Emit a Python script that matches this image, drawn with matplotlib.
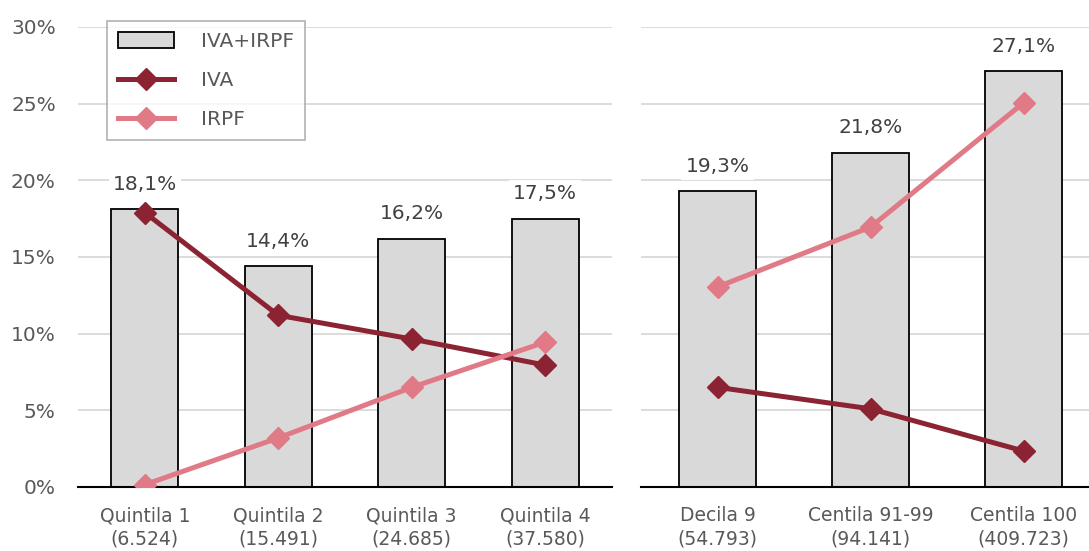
import matplotlib
matplotlib.use("Agg")
import matplotlib.pyplot as plt
import numpy as np

left_cats = ["Quintila 1\n(6.524)", "Quintila 2\n(15.491)", "Quintila 3\n(24.685)", "Quintila 4\n(37.580)"]
left_total = [18.1, 14.4, 16.2, 17.5]
left_iva = [17.9, 11.2, 9.65, 7.95]
left_irpf = [0.15, 3.2, 6.5, 9.45]

right_cats = ["Decila 9\n(54.793)", "Centila 91-99\n(94.141)", "Centila 100\n(409.723)"]
right_total = [19.3, 21.8, 27.1]
right_iva = [6.5, 5.1, 2.35]
right_irpf = [13.05, 16.95, 25.05]

yticks = [0, 5, 10, 15, 20, 25, 30]
ytick_labels = ["0%", "5%", "10%", "15%", "20%", "25%", "30%"]

plt.rcParams['font.family'] = ['DejaVu Sans']
TXT = "#595959"
BAR = "#D9D9D9"
IVA_C = "#8B2332"
IRPF_C = "#E07A86"
GRID = "#D9D9D9"
FS = 13.5

fig = plt.figure(figsize=(10.89, 5.51), dpi=100)
W, H = 1089, 551
y0 = 487; y30 = 27
axL = fig.add_axes([78 / W, (H - y0) / H, (612 - 78) / W, (y0 - y30) / H])
axR = fig.add_axes([641 / W, (H - y0) / H, (1100 - 641) / W, (y0 - y30) / H])

def draw(ax, cats, total, iva, irpf, width, show_y):
    x = np.arange(len(cats))
    ax.set_ylim(0, 30)
    ax.set_xlim(-0.5, len(cats) - 0.5)
    ax.set_yticks(yticks)
    ax.yaxis.grid(True, color=GRID, linewidth=1.3)
    ax.set_axisbelow(True)
    ax.bar(x, total, width=width, color=BAR, edgecolor="black", linewidth=1.3,
           label="IVA+IRPF", zorder=2)
    ax.plot(x, iva, color=IVA_C, lw=3.6, marker="D", ms=11, label="IVA", zorder=3)
    ax.plot(x, irpf, color=IRPF_C, lw=3.6, marker="D", ms=11, label="IRPF", zorder=3)
    for xi, v in zip(x, total):
        ax.annotate(f"{v:.1f}%".replace(".", ","), (xi, v), xytext=(0, 11),
                    textcoords="offset points", ha="center", va="bottom",
                    fontsize=FS + 1, color="#404040",
                    bbox=dict(boxstyle="square,pad=0.2", fc="white", ec="none"), zorder=4)
    for s in ["top", "right", "left"]:
        ax.spines[s].set_visible(False)
    ax.spines["bottom"].set_color("black")
    ax.spines["bottom"].set_linewidth(1.5)
    ax.set_xticks(x)
    ax.set_xticklabels(cats, fontsize=FS, color=TXT, linespacing=1.3)
    ax.tick_params(axis="x", length=0, pad=14)
    ax.tick_params(axis="y", length=0, labelsize=FS + 1, labelcolor=TXT, pad=16)
    if show_y:
        ax.set_yticklabels(ytick_labels)
    else:
        ax.set_yticklabels([])

draw(axL, left_cats, left_total, left_iva, left_irpf, 0.5, True)
draw(axR, right_cats, right_total, right_iva, right_irpf, 0.5, False)

handles, labels = axL.get_legend_handles_labels()
order = [labels.index("IVA+IRPF"), labels.index("IVA"), labels.index("IRPF")]
leg = axL.legend([handles[i] for i in order], [labels[i] for i in order],
                 loc="upper left", bbox_to_anchor=(29 / 534, 1.0 + 6 / 460),
                 fontsize=FS + 1, frameon=True, fancybox=False, edgecolor="#A6A6A6",
                 labelcolor=TXT, handlelength=2.8, handleheight=0.8, handletextpad=1.3,
                 borderpad=0.55, labelspacing=1.0, borderaxespad=0)
leg.get_frame().set_linewidth(1.3)

fig.savefig("out.png", dpi=100)
